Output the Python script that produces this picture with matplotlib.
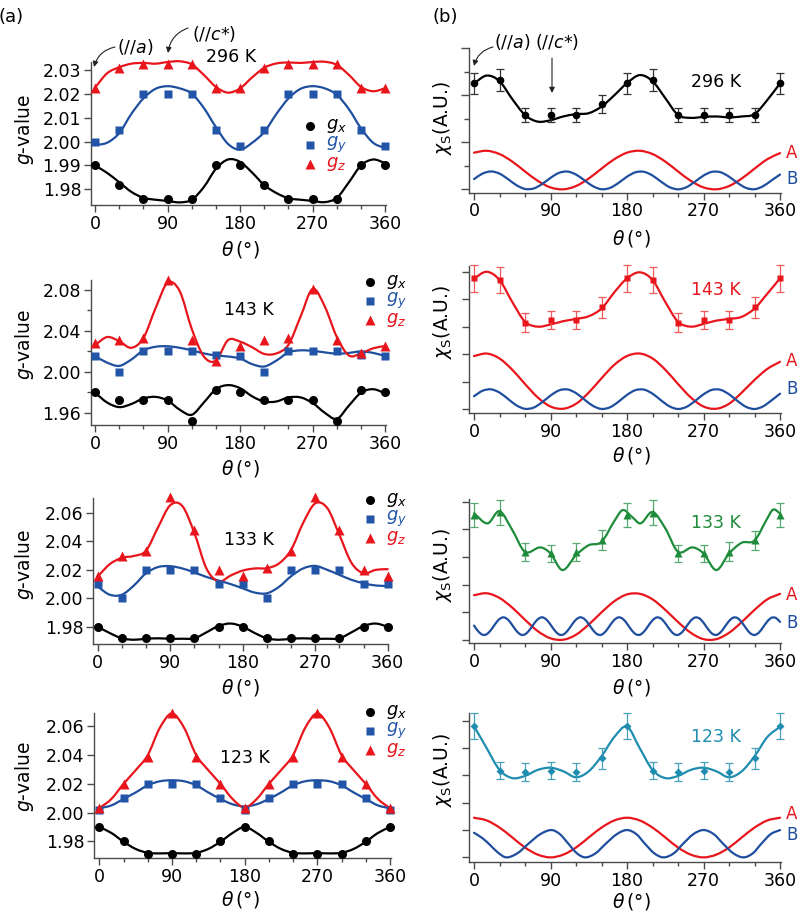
"""
g-value and spin susceptibility vs rotation angle at four temperatures.
(a) g_x, g_y, g_z with fits; (b) chi_S with fit and the A/B component curves.
"""
import matplotlib
matplotlib.use("Agg")
import matplotlib.pyplot as plt
from matplotlib.path import Path
from matplotlib.patches import PathPatch, FancyArrowPatch
from matplotlib.lines import Line2D
from matplotlib.ticker import FixedLocator, FormatStrFormatter

W, H = 800, 914
plt.rcParams["font.family"] = ["DejaVu Sans"]
plt.rcParams["mathtext.fontset"] = "dejavusans"

# ---------------------------------------------------------------- data
THETA = [0, 30, 60, 90, 120, 150, 180, 210, 240, 270, 300, 330, 360]
FIT_TH = list(range(0, 361, 15))
TH10 = list(range(0, 361, 10))
TH5 = list(range(0, 361, 5))

# (a) g-values, 296 K
GX_296 = [1.990, 1.982, 1.976, 1.976, 1.976, 1.990, 1.990, 1.982, 1.976, 1.976, 1.976, 1.990, 1.990]
GY_296 = [2.000, 2.005, 2.020, 2.020, 2.020, 2.005, 1.998, 2.005, 2.020, 2.020, 2.020, 2.005, 1.998]
GZ_296 = [2.0225, 2.0305, 2.0325, 2.0325, 2.0325, 2.0225, 2.0225, 2.0305, 2.0325, 2.0325, 2.0325, 2.0225, 2.0225]
GX_296_FIT = [1.9900, 1.9869, 1.9830, 1.9790, 1.9765, 1.9757, 1.9752, 1.9746, 1.9757, 1.9810, 1.9886, 1.9925, 1.9915,
              1.9870, 1.9818, 1.9785, 1.9763, 1.9757, 1.9752, 1.9747, 1.9765, 1.9830, 1.9900, 1.9925, 1.9910]
GY_296_FIT = [1.9985, 1.9995, 2.0035, 2.0115, 2.0180, 2.0220, 2.0231, 2.0222, 2.0200, 2.0140, 2.0060, 1.9990, 1.9966,
              1.9995, 2.0040, 2.0115, 2.0180, 2.0220, 2.0231, 2.0222, 2.0195, 2.0135, 2.0055, 1.9995, 1.9972]
GZ_296_FIT = [2.0225, 2.0285, 2.0310, 2.0325, 2.0328, 2.0325, 2.0332, 2.0335, 2.0322, 2.0278, 2.0228, 2.0204, 2.0222,
              2.0268, 2.0308, 2.0326, 2.0330, 2.0328, 2.0332, 2.0333, 2.0320, 2.0278, 2.0228, 2.0210, 2.0222]

# 143 K
GX_143 = [1.980, 1.972, 1.972, 1.972, 1.952, 1.982, 1.980, 1.972, 1.972, 1.972, 1.952, 1.982, 1.980]
GY_143 = [2.015, 2.000, 2.020, 2.020, 2.020, 2.016, 2.015, 2.000, 2.020, 2.020, 2.020, 2.016, 2.015]
GZ_143 = [2.028, 2.031, 2.033, 2.090, 2.031, 2.011, 2.025, 2.031, 2.033, 2.081, 2.031, 2.018, 2.025]
GX_143_FIT = [1.9796, 1.9700, 1.9655, 1.9685, 1.9740, 1.9755, 1.9720, 1.9630, 1.9580, 1.9700, 1.9830, 1.9870, 1.9840,
              1.9760, 1.9708, 1.9710, 1.9750, 1.9750, 1.9695, 1.9600, 1.9540, 1.9670, 1.9796, 1.9830, 1.9790]
GY_143_FIT = [2.0154, 2.0090, 2.0058, 2.0120, 2.0210, 2.0245, 2.0250, 2.0235, 2.0210, 2.0180, 2.0160, 2.0150, 2.0130,
              2.0075, 2.0052, 2.0110, 2.0190, 2.0210, 2.0205, 2.0190, 2.0178, 2.0185, 2.0200, 2.0185, 2.0154]
GZ_143_FIT = [2.0262, 2.0340, 2.0300, 2.0235, 2.0330, 2.0620, 2.0870, 2.0790, 2.0420, 2.0150, 2.0110, 2.0310, 2.0295,
              2.0240, 2.0175, 2.0180, 2.0265, 2.0540, 2.0810, 2.0640, 2.0340, 2.0160, 2.0180, 2.0230, 2.0252]

# 133 K
GX_133 = [1.980, 1.972, 1.972, 1.972, 1.972, 1.980, 1.980, 1.972, 1.972, 1.972, 1.972, 1.980, 1.980]
GY_133 = [2.010, 2.000, 2.020, 2.020, 2.020, 2.010, 2.010, 2.000, 2.020, 2.020, 2.020, 2.010, 2.010]
GZ_133 = [2.016, 2.030, 2.033, 2.071, 2.048, 2.020, 2.016, 2.021, 2.033, 2.071, 2.048, 2.020, 2.016]
GX_133_FIT = [1.9800, 1.9755, 1.9718, 1.9708, 1.9715, 1.9718, 1.9715, 1.9715, 1.9718, 1.9760, 1.9805, 1.9822, 1.9800,
              1.9755, 1.9718, 1.9708, 1.9715, 1.9718, 1.9715, 1.9715, 1.9718, 1.9760, 1.9805, 1.9822, 1.9800]
GY_133_FIT = [2.0082, 2.0025, 2.0025, 2.0090, 2.0176, 2.0220, 2.0226, 2.0210, 2.0182, 2.0150, 2.0125, 2.0100, 2.0070,
              2.0040, 2.0035, 2.0080, 2.0155, 2.0210, 2.0228, 2.0200, 2.0165, 2.0130, 2.0106, 2.0090, 2.0087]
GZ_133_FIT = [2.0153, 2.0240, 2.0285, 2.0298, 2.0335, 2.0500, 2.0655, 2.0650, 2.0460, 2.0210, 2.0118, 2.0160, 2.0195,
              2.0210, 2.0212, 2.0245, 2.0340, 2.0530, 2.0668, 2.0635, 2.0447, 2.0250, 2.0176, 2.0200, 2.0205]

# 123 K
GX_123 = [1.990, 1.980, 1.9715, 1.9715, 1.9715, 1.980, 1.990, 1.980, 1.9715, 1.9715, 1.9715, 1.980, 1.990]
GY_123 = [2.002, 2.010, 2.020, 2.020, 2.020, 2.010, 2.002, 2.010, 2.020, 2.020, 2.020, 2.010, 2.002]
GZ_123 = [2.003, 2.020, 2.039, 2.069, 2.039, 2.020, 2.003, 2.020, 2.039, 2.069, 2.039, 2.020, 2.003]
GX_123_FIT = [1.9900, 1.9858, 1.9797, 1.9747, 1.9720, 1.9716, 1.9718, 1.9716, 1.9720, 1.9747, 1.9797, 1.9858, 1.9900,
              1.9858, 1.9797, 1.9747, 1.9720, 1.9716, 1.9718, 1.9716, 1.9720, 1.9747, 1.9797, 1.9858, 1.9900]
GY_123_FIT = [2.0030, 2.0050, 2.0095, 2.0140, 2.0190, 2.0218, 2.0225, 2.0218, 2.0190, 2.0140, 2.0095, 2.0058, 2.0043,
              2.0058, 2.0095, 2.0140, 2.0190, 2.0218, 2.0225, 2.0218, 2.0190, 2.0140, 2.0095, 2.0050, 2.0030]
GZ_123_FIT = [2.0030, 2.0095, 2.0200, 2.0295, 2.0400, 2.0590, 2.0690, 2.0590, 2.0400, 2.0295, 2.0200, 2.0095, 2.0035,
              2.0095, 2.0200, 2.0295, 2.0400, 2.0590, 2.0690, 2.0590, 2.0400, 2.0295, 2.0200, 2.0095, 2.0030]

# (b) chi_S (arbitrary units) with error bars
CHI_296 = [2.255, 2.33, 1.58, 1.58, 1.58, 1.82, 2.255, 2.33, 1.58, 1.58, 1.58, 1.58, 2.255]
ERR_296 = [0.23, 0.23, 0.15, 0.15, 0.15, 0.19, 0.23, 0.23, 0.15, 0.15, 0.15, 0.15, 0.23]
CHI_296_FIT = [2.255, 2.42, 2.30, 1.92, 1.58, 1.44, 1.47, 1.55, 1.60, 1.62, 1.76, 2.00, 2.26,
               2.43, 2.30, 1.94, 1.58, 1.52, 1.54, 1.55, 1.53, 1.55, 1.60, 1.90, 2.255]
A_296 = [0.78, 0.82, 0.75, 0.59, 0.38, 0.18, 0.04, 0.00, 0.07, 0.23, 0.44, 0.64, 0.78,
         0.82, 0.75, 0.59, 0.38, 0.18, 0.04, 0.00, 0.07, 0.23, 0.44, 0.64, 0.77]
B_296 = [0.217, 0.334, 0.380, 0.334, 0.217, 0.087, 0.008, 0.017, 0.111, 0.244,
         0.350, 0.378, 0.314, 0.190, 0.066, 0.002, 0.030, 0.136, 0.269, 0.363,
         0.372, 0.293, 0.163, 0.046, 0.000, 0.046, 0.163, 0.293, 0.372, 0.363,
         0.269, 0.136, 0.030, 0.002, 0.066, 0.190, 0.314]

CHI_143 = [4.76, 4.70, 3.15, 3.24, 3.24, 3.70, 4.76, 4.70, 3.15, 3.24, 3.24, 3.70, 4.76]
ERR_143 = [0.485, 0.47, 0.33, 0.33, 0.33, 0.375, 0.485, 0.47, 0.33, 0.33, 0.33, 0.375, 0.485]
CHI_143_FIT = [4.76, 5.00, 4.70, 3.90, 3.18, 3.00, 3.08, 3.20, 3.28, 3.38, 3.66, 4.25, 4.76,
               4.98, 4.70, 3.90, 3.18, 3.00, 3.10, 3.22, 3.28, 3.36, 3.66, 4.20, 4.76]
A_143 = [1.93, 2.02, 1.84, 1.43, 0.91, 0.42, 0.09, 0.01, 0.19, 0.60, 1.12, 1.61, 1.93,
         2.02, 1.84, 1.43, 0.91, 0.42, 0.09, 0.01, 0.19, 0.60, 1.06, 1.46, 1.72]
B_143 = [0.466, 0.664, 0.716, 0.598, 0.366, 0.131, 0.006, 0.049, 0.242, 0.490,
         0.677, 0.712, 0.579, 0.341, 0.112, 0.002, 0.063, 0.266, 0.514, 0.688,
         0.706, 0.558, 0.315, 0.095, 0.000, 0.078, 0.291, 0.536, 0.698, 0.698,
         0.536, 0.291, 0.078, 0.000, 0.095, 0.315, 0.558]

CHI_133 = [4.52, 4.62, 3.19, 3.13, 3.19, 3.61, 4.52, 4.60, 3.13, 3.13, 3.19, 3.60, 4.52]
ERR_133 = [0.45, 0.45, 0.33, 0.32, 0.33, 0.36, 0.45, 0.45, 0.30, 0.31, 0.34, 0.36, 0.45]
CHI_133_FIT_TH = [0, 16, 30, 45, 60, 78, 90, 104, 120, 135, 150, 165, 175, 186,
                  196, 210, 225, 240, 257, 270, 285, 300, 315, 330, 345, 352, 360]
CHI_133_FIT = [4.58, 4.22, 4.66, 3.98, 3.19, 3.35, 3.13, 2.53, 3.07, 3.43, 3.55, 4.30, 4.70, 4.45,
               4.22, 4.63, 4.04, 3.19, 3.35, 3.13, 2.53, 3.13, 3.52, 3.60, 4.40, 4.72, 4.58]
A_133 = [1.62, 1.69, 1.52, 1.17, 0.73, 0.32, 0.06, 0.01, 0.19, 0.56, 1.00, 1.40, 1.65,
         1.67, 1.47, 1.09, 0.65, 0.26, 0.03, 0.03, 0.26, 0.65, 1.09, 1.47, 1.67]
B_133 = [0.520, 0.312, 0.190, 0.211, 0.365, 0.581, 0.760, 0.819, 0.732, 0.538,
         0.326, 0.195, 0.204, 0.349, 0.564, 0.749, 0.820, 0.744, 0.555, 0.341,
         0.200, 0.197, 0.334, 0.546, 0.738, 0.820, 0.755, 0.572, 0.357, 0.207,
         0.192, 0.319, 0.529, 0.726, 0.818, 0.765, 0.589, 0.372, 0.215, 0.188,
         0.305, 0.512, 0.713, 0.816, 0.774, 0.606, 0.389, 0.223, 0.185, 0.291,
         0.494, 0.700, 0.813, 0.783, 0.623, 0.405, 0.232, 0.182, 0.278, 0.477,
         0.685, 0.809, 0.791, 0.638, 0.423, 0.242, 0.181, 0.266, 0.459, 0.671,
         0.804, 0.798, 0.654]

CHI_123 = [4.80, 3.17, 3.13, 3.17, 3.13, 3.62, 4.80, 3.17, 3.13, 3.17, 3.13, 3.62, 4.80]
ERR_123 = [0.48, 0.32, 0.32, 0.32, 0.32, 0.37, 0.48, 0.32, 0.32, 0.32, 0.32, 0.37, 0.48]
CHI_123_FIT = [4.80, 3.99, 3.20, 2.90, 2.98, 3.20, 3.28, 3.15, 2.93, 3.15, 3.70, 4.40, 4.78,
               3.99, 3.20, 2.90, 2.98, 3.20, 3.28, 3.15, 2.93, 3.15, 3.70, 4.40, 4.78]
A_123 = [1.45, 1.35, 1.09, 0.73, 0.36, 0.10, 0.00, 0.10, 0.36, 0.73, 1.09, 1.35, 1.45,
         1.35, 1.09, 0.73, 0.36, 0.10, 0.00, 0.10, 0.36, 0.73, 1.09, 1.35, 1.45]
B_123_TH = [0, 10, 19, 28, 38, 51, 64, 78, 91, 101, 111, 121, 131, 143, 155, 168, 180,
            191, 201, 212, 223, 235, 246, 258, 270, 282, 293, 305, 317, 328, 338, 349, 360]
B_123 = [0.90, 0.70, 0.45, 0.18, 0.00, 0.15, 0.50, 0.85, 1.00, 0.85, 0.50, 0.15, 0.00, 0.15, 0.50, 0.85, 1.00,
         0.85, 0.50, 0.15, 0.00, 0.15, 0.50, 0.85, 1.00, 0.85, 0.50, 0.15, 0.00, 0.15, 0.50, 0.85, 1.00]

# ---------------------------------------------------------------- style
BLACK = "#000000"
BLUE = "#1f4e9e"
BLUE_PT = "#2255a8"
RED = "#e8161c"
GREEN = "#1e8c3a"
GREEN_ERR = "#56a96e"
TEAL = "#1f8db0"
TEAL_ERR = "#45a0b8"
RED_ERR = "#ef5a5a"
SPINE = "#4a4a4a"
FS = 12.5

fig = plt.figure(figsize=(W / 100, H / 100), dpi=100)


def axes_px(x0, y0, x1, y1):
    return fig.add_axes([x0 / W, 1 - y1 / H, (x1 - x0) / W, (y1 - y0) / H])


def ftext(x, y, s, **kw):
    kw.setdefault("ha", "center")
    kw.setdefault("va", "center")
    kw.setdefault("fontsize", FS)
    fig.text(x / W, 1 - y / H, s, **kw)


def smooth(ax, xs, ys, color, lw=1.6):
    """Smooth curve through the read points (cubic Bezier segments)."""
    n = len(xs)
    m = []
    for i in range(n):
        a, b = max(i - 1, 0), min(i + 1, n - 1)
        m.append((ys[b] - ys[a]) / (xs[b] - xs[a]))
    verts = [(xs[0], ys[0])]
    codes = [Path.MOVETO]
    for i in range(n - 1):
        h = xs[i + 1] - xs[i]
        verts += [(xs[i] + h / 3, ys[i] + m[i] * h / 3),
                  (xs[i + 1] - h / 3, ys[i + 1] - m[i + 1] * h / 3),
                  (xs[i + 1], ys[i + 1])]
        codes += [Path.CURVE4] * 3
    ax.add_patch(PathPatch(Path(verts, codes), fill=False, edgecolor=color, lw=lw,
                           clip_on=False, zorder=2, capstyle="round"))


def style(ax, xlim, ylim):
    ax.set_xlim(*xlim)
    ax.set_ylim(*ylim)
    ax.patch.set_visible(False)
    for s in ("top", "right"):
        ax.spines[s].set_visible(False)
    for s in ("left", "bottom"):
        ax.spines[s].set_color(SPINE)
        ax.spines[s].set_linewidth(1.0)
    ax.xaxis.set_major_locator(FixedLocator([0, 90, 180, 270, 360]))
    ax.xaxis.set_minor_locator(FixedLocator([30, 60, 120, 150, 210, 240, 300, 330]))
    ax.tick_params(which="major", direction="out", length=5, width=1.0, color=SPINE,
                   labelsize=FS, pad=2)
    ax.tick_params(which="minor", direction="out", length=3, width=1.0, color=SPINE)


def g_panel(box, xlim, ylim, major, minor, gx, gy, gz, fx, fy, fz, temp, temp_xy, leg_xy):
    ax = axes_px(*box)
    style(ax, xlim, ylim)
    ax.yaxis.set_major_locator(FixedLocator(major))
    ax.yaxis.set_minor_locator(FixedLocator(minor))
    ax.yaxis.set_major_formatter(FormatStrFormatter("%.2f"))
    ax.tick_params(axis="y", pad=2)
    smooth(ax, FIT_TH, fx, BLACK)
    smooth(ax, FIT_TH, fy, BLUE)
    smooth(ax, FIT_TH, fz, RED)
    ax.plot(THETA, gx, ls="none", marker="o", ms=6.5, color=BLACK, mec="none", clip_on=False, zorder=4)
    ax.plot(THETA, gy, ls="none", marker="s", ms=6, color=BLUE_PT, mec="none", clip_on=False, zorder=4)
    ax.plot(THETA, gz, ls="none", marker="^", ms=7, color=RED, mec="none", clip_on=False, zorder=4)
    ftext(*temp_xy, temp)
    lx, ly = leg_xy
    for k, (mk, ms, col, lab) in enumerate([("o", 6.5, BLACK, "$g_x$"),
                                            ("s", 6, BLUE_PT, "$g_y$"),
                                            ("^", 7, RED, "$g_z$")]):
        y = ly + k * 19
        fig.add_artist(Line2D([lx / W], [1 - y / H], marker=mk, ms=ms, color=col, mec="none", ls="none"))
        ftext(lx + 16, y, lab, ha="left", color=col, fontsize=13)
    return ax


def chi_panel(box, ylim, ticks, major_len, chi, err, fit_th, fit, a, b_th, b, col, ecol, mk, ms, temp,
              temp_y, ab_y):
    ax = axes_px(*box)
    style(ax, (-5.9, 361), ylim)
    ax.yaxis.set_major_locator(FixedLocator(ticks[0]))
    ax.yaxis.set_minor_locator(FixedLocator(ticks[1]))
    ax.tick_params(axis="y", which="major", labelleft=False, length=major_len)
    ax.tick_params(axis="y", which="minor", length=3.5)
    smooth(ax, FIT_TH, a, RED)
    smooth(ax, b_th, b, BLUE)
    smooth(ax, fit_th, fit, col)
    ax.errorbar(THETA, chi, yerr=err, fmt="none", ecolor=ecol, elinewidth=0.9, capsize=3.2,
                capthick=0.9, clip_on=False, zorder=3)
    ax.plot(THETA, chi, ls="none", marker=mk, ms=ms, color=col, mec="none", clip_on=False, zorder=4)
    ftext(716, temp_y, temp, color=col)
    ftext(792, ab_y[0], "A", color=RED, fontsize=12)
    ftext(792, ab_y[1], "B", color=BLUE, fontsize=12)
    return ax


# ---------------------------------------------------------------- (a)
g_panel((91, 62, 386, 205), (-5, 361), (1.9735, 2.0332),
        [1.98, 1.99, 2.00, 2.01, 2.02, 2.03], [],
        GX_296, GY_296, GZ_296, GX_296_FIT, GY_296_FIT, GZ_296_FIT,
        "296 K", (231, 57), (310, 126))
g_panel((91, 280, 386, 425), (-5, 361), (1.948, 2.0898),
        [1.96, 2.00, 2.04, 2.08], [1.98, 2.02, 2.06],
        GX_143, GY_143, GZ_143, GX_143_FIT, GY_143_FIT, GZ_143_FIT,
        "143 K", (249, 310), (370, 282))
g_panel((93, 498, 388.5, 644), (-5.8, 361), (1.9678, 2.0706),
        [1.98, 2.00, 2.02, 2.04, 2.06], [],
        GX_133, GY_133, GZ_133, GX_133_FIT, GY_133_FIT, GZ_133_FIT,
        "133 K", (249, 540), (370, 500))
g_panel((94.3, 713, 390.8, 858), (-6.2, 361), (1.9684, 2.0693),
        [1.98, 2.00, 2.02, 2.04, 2.06], [],
        GX_123, GY_123, GZ_123, GX_123_FIT, GY_123_FIT, GZ_123_FIT,
        "123 K", (245, 758), (370, 712))

for yc in (130, 345, 565, 777):
    ftext(25, yc, "$g$-value", rotation=90, fontsize=13.5)
for yc in (250, 468, 688, 900):
    ftext(240, yc, r"$\theta\,$(°)", fontsize=13.5)

# ---------------------------------------------------------------- (b)
chi_panel((469, 48.3, 780.9, 192.7), (-0.072, 3.0), ([0, 1, 2, 3], [0.5, 1.5, 2.5]), 6,
          CHI_296, ERR_296, FIT_TH, CHI_296_FIT, A_296, TH10, B_296,
          BLACK, "#333333", "o", 5.5, "296 K", 82, (153, 179))
chi_panel((469, 266, 780.9, 413), (-0.146, 5.21), ([0, 1, 2, 3, 4, 5], []), 5,
          CHI_143, ERR_143, FIT_TH, CHI_143_FIT, A_143, TH10, B_143,
          RED, RED_ERR, "s", 5, "143 K", 290, (361, 389))
chi_panel((469, 499.3, 780.9, 643.3), (-0.12, 5.09), ([0, 1, 2, 3, 4, 5], []), 5,
          CHI_133, ERR_133, CHI_133_FIT_TH, CHI_133_FIT, A_133, TH5, B_133,
          GREEN, GREEN_ERR, "^", 5.5, "133 K", 523, (595, 623))
chi_panel((469, 713.3, 780.9, 862.3), (-0.18, 5.27), ([0, 1, 2, 3, 4, 5], []), 5,
          CHI_123, ERR_123, FIT_TH, CHI_123_FIT, A_123, B_123_TH, B_123,
          TEAL, TEAL_ERR, "D", 4.2, "123 K", 737, (814, 835))

for yc in (118, 322, 565, 770):
    ftext(443, yc, r"$\chi_\mathrm{S}$(A.U.)", rotation=90, fontsize=13.5)
for yc in (238, 456, 687, 902):
    ftext(631, yc, r"$\theta\,$(°)", fontsize=13.5)

# ---------------------------------------------------------------- annotations
ftext(11, 17, "(a)", fontsize=13)
ftext(445, 17, "(b)", fontsize=13)
ftext(135, 47, "(//$a$)")
ftext(214, 34, "(//$c$*)")
ftext(512, 42, "(//$a$)")
ftext(557, 42, "(//$c$*)")


def arrow(p, q, rad):
    fig.add_artist(FancyArrowPatch((p[0] / W, 1 - p[1] / H), (q[0] / W, 1 - q[1] / H),
                                   arrowstyle="-|>", mutation_scale=8, lw=0.8, color="#222222",
                                   connectionstyle=f"arc3,rad={rad}", shrinkA=0, shrinkB=0))


arrow((115, 47), (94, 67), 0.3)
arrow((188, 28), (168, 53), 0.3)
arrow((493, 47), (474, 66), 0.3)
arrow((552, 58), (552, 93), 0.0)

fig.savefig("out.png", dpi=100)
